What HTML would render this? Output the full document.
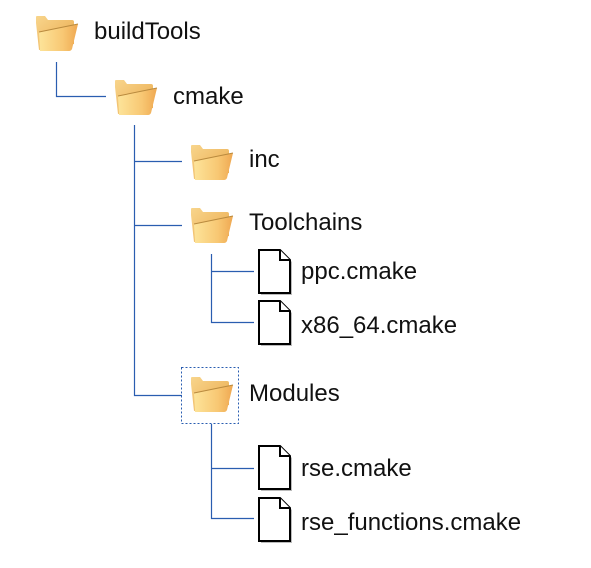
<!DOCTYPE html>
<html><head><meta charset="utf-8"><style>
html,body{margin:0;padding:0;background:#fff;}
svg{display:block}
text{font-family:"Liberation Sans",sans-serif;font-size:24px;fill:#111;}
</style></head><body>
<svg width="591" height="568" viewBox="0 0 591 568" xmlns="http://www.w3.org/2000/svg">
<defs>
<linearGradient id="fb" x1="0" y1="0" x2="1" y2="1"><stop offset="0" stop-color="#f8d58c"/><stop offset="1" stop-color="#eaa94c"/></linearGradient>
<linearGradient id="ff" x1="0" y1="0" x2="1" y2="0"><stop offset="0" stop-color="#fde49a"/><stop offset="0.6" stop-color="#f8c874"/><stop offset="1" stop-color="#efa851"/></linearGradient>
<g id="fold">
<path d="M3,9 L3,3 Q3,2 4,2 L12,2 L15,6 L39,6 Q41,6 41,8 L41,30 L6,36 Z" fill="url(#fb)"/>
<path d="M6,18 L45,10 L39,35 Q38,37 36,37 L7,37 Z" fill="url(#ff)"/>
<path d="M6,18 L45,10" stroke="#b98a3e" stroke-width="1" fill="none"/>
</g>
<g id="file">
<path d="M3,3 L24,3 L34,13 L34,46 L3,46 Z" fill="#bbb"/>
<path d="M1,1 L22,1 L32,11 L32,44 L1,44 Z" fill="#fff" stroke="#000" stroke-width="2"/>
<path d="M22,1 L22,11 L32,11" fill="#fff" stroke="#000" stroke-width="2"/>
</g>
</defs>
<g stroke="#2a5db0" stroke-width="1.2" fill="none">
<path d="M56.5,62 V96.5 H106"/>
<path d="M134.5,125 V395.5 H182 M134.5,161.5 H182 M134.5,225.5 H182"/>
<path d="M211.5,254 V322.5 H254 M211.5,271.5 H254"/>
<path d="M211.5,424 V518.5 H254 M211.5,468.5 H254"/>
</g>
<use href="#fold" x="33" y="14"/>
<use href="#fold" x="112" y="78"/>
<use href="#fold" x="188" y="143"/>
<use href="#fold" x="188" y="206"/>
<use href="#fold" x="188" y="375"/>
<rect x="181.5" y="367.5" width="57" height="56" fill="none" stroke="#2a5db0" stroke-width="1" stroke-dasharray="2,2"/>
<use href="#file" x="258" y="249"/>
<use href="#file" x="258" y="300"/>
<use href="#file" x="258" y="445"/>
<use href="#file" x="258" y="497"/>
<text x="94" y="39">buildTools</text>
<text x="173" y="104">cmake</text>
<text x="249" y="167">inc</text>
<text x="249" y="230">Toolchains</text>
<text x="301" y="279">ppc.cmake</text>
<text x="301" y="333">x86_64.cmake</text>
<text x="249" y="401">Modules</text>
<text x="301" y="476">rse.cmake</text>
<text x="301" y="530">rse_functions.cmake</text>
</svg>
</body></html>
